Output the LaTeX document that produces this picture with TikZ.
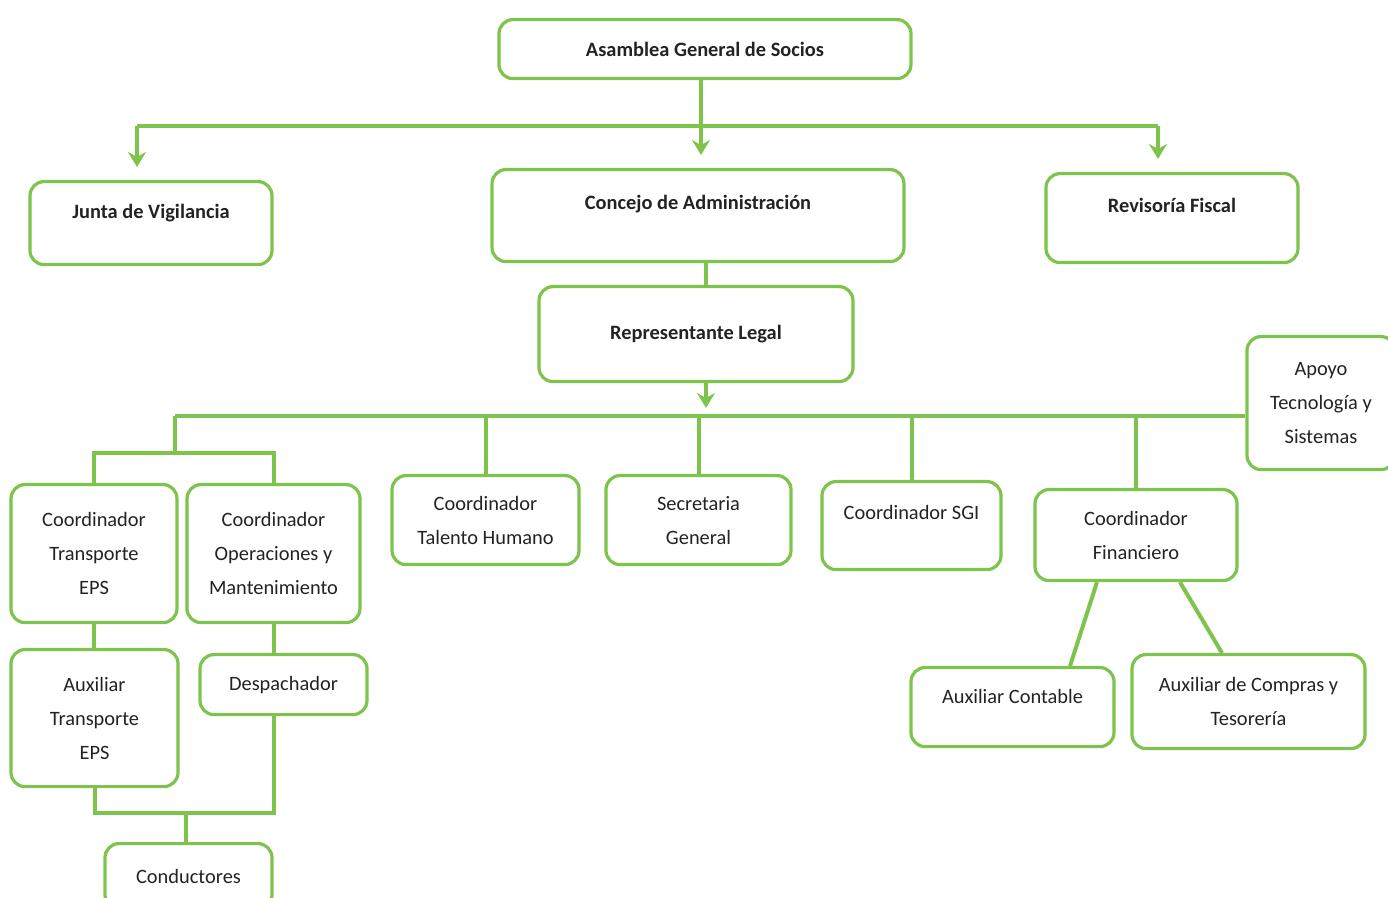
\documentclass[tikz,border=0pt]{standalone}
\usepackage{fontspec}
\setmainfont{Carlito}
\usetikzlibrary{arrows.meta}
\definecolor{verde}{RGB}{126,195,76}
\definecolor{texto}{RGB}{35,35,35}

\begin{document}
\begin{tikzpicture}[x=0.5pt,y=-0.5pt,
  caja/.style={draw=verde, line width=1.6pt, rounded corners=7pt, fill=white, text=texto,
    align=center, inner sep=0pt, anchor=north, font=\fontsize{10.2pt}{17pt}\selectfont},
  titulo/.style={caja, font=\fontsize{10.2pt}{17pt}\selectfont\bfseries},
  alto/.style 2 args={text height=#1, text depth=#2},
  conector/.style={draw=verde, line width=2pt},
  flecha/.style={conector, -{Stealth[length=7.5pt,width=9pt,inset=2.5pt]}, shorten >=6.5pt}]

\useasboundingbox (0,0) rectangle (1388,898);

\node[titulo, minimum width=206pt, minimum height=29.5pt] (asamblea) at (705,18) {Asamblea General de Socios};
\node[titulo, minimum width=121pt, alto={18.5pt}{23pt}] (junta) at (151,180) {Junta de Vigilancia};
\node[titulo, minimum width=206pt, alto={20pt}{26pt}] (concejo) at (698,168) {Concejo de Administración};
\node[titulo, minimum width=126pt, alto={19.5pt}{25pt}] (revisoria) at (1172,172) {Revisoría Fiscal};
\node[titulo, minimum width=157pt, minimum height=47.5pt] (representante) at (696,285) {Representante Legal};
\node[caja, minimum width=74pt, minimum height=66.5pt] (apoyo) at (1321,335) {Apoyo\\Tecnología y\\Sistemas};

\node[caja, minimum width=83pt, minimum height=69pt] (ctransporte) at (94,483) {Coordinador\\Transporte\\EPS};
\node[caja, minimum width=86.5pt, minimum height=69pt] (coperaciones) at (273.5,483) {Coordinador\\Operaciones y\\Mantenimiento};
\node[caja, minimum width=93.5pt, minimum height=44.5pt] (ctalento) at (485.5,474) {Coordinador\\Talento Humano};
\node[caja, minimum width=92.5pt, minimum height=44.5pt] (secretaria) at (698.5,474) {Secretaria\\General};
\node[caja, minimum width=89.5pt, alto={19pt}{25pt}] (csgi) at (911.5,480) {Coordinador SGI};
\node[caja, minimum width=101pt, minimum height=45.5pt] (cfinanciero) at (1136,488) {Coordinador\\Financiero};

\node[caja, minimum width=101.5pt, alto={18pt}{21.5pt}] (auxcontable) at (1012.5,666) {Auxiliar Contable};
\node[caja, minimum width=116.5pt, minimum height=47pt] (auxcompras) at (1248.5,653) {Auxiliar de Compras y\\Tesorería};
\node[caja, minimum width=83.5pt, minimum height=68.5pt] (auxtransporte) at (94.5,648) {Auxiliar\\Transporte\\EPS};
\node[caja, minimum width=83.5pt, minimum height=30pt] (despachador) at (283.5,653) {Despachador};
\node[caja, minimum width=83.5pt, minimum height=32.5pt] (conductores) at (188.5,842) {Conductores};

\coordinate (barra1) at (705,126);
\coordinate (barra2) at (705,416);
\coordinate (ramaizq) at (175,453);
\coordinate (ramacond) at (186,813);

\draw[flecha] ([xshift=-2pt]asamblea.south) -- ([xshift=-2pt]asamblea.south |- concejo.north);
\draw[conector] ([xshift=-7pt]junta.north |- barra1) -- ([xshift=-7pt]revisoria.north |- barra1);
\draw[flecha] ([xshift=-7pt]junta.north |- barra1) -- ([xshift=-7pt]junta.north);
\draw[flecha] ([xshift=-7pt]revisoria.north |- barra1) -- ([xshift=-7pt]revisoria.north);

\draw[conector] ([xshift=4pt]concejo.south) -- ([xshift=4pt]concejo.south |- representante.north);
\draw[flecha, shorten >=4pt] ([xshift=5pt]representante.south) -- ([xshift=5pt]representante.south |- barra2);

\draw[conector] (ramaizq |- barra2) -- (apoyo.west |- barra2);
\draw[conector] (ramaizq |- barra2) -- (ramaizq);
\draw[conector] (ctransporte.north) -- (ctransporte.north |- ramaizq) -- (coperaciones.north |- ramaizq) -- (coperaciones.north);
\foreach \n in {ctalento,secretaria,csgi,cfinanciero}
  \draw[conector] (\n.north |- barra2) -- (\n.north);

\draw[conector] (ctransporte.south) -- (ctransporte.south |- auxtransporte.north);
\draw[conector] (coperaciones.south) -- (coperaciones.south |- despachador.north);
\draw[conector] (auxtransporte.south) -- (auxtransporte.south |- ramacond) -- (coperaciones.south |- ramacond) -- (coperaciones.south |- despachador.south);
\draw[conector] (ramacond) -- (ramacond |- conductores.north);

\draw[conector] ([xshift=-19.5pt]cfinanciero.south) -- ([xshift=28.75pt]auxcontable.north);
\draw[conector] ([xshift=22pt]cfinanciero.south) -- ([xshift=-13.25pt]auxcompras.north);

\end{tikzpicture}
\end{document}
